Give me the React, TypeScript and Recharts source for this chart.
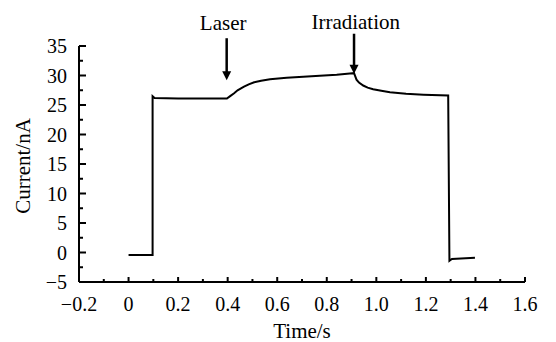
import React from 'react';
import { LineChart, Line, XAxis, YAxis, ReferenceDot, Label } from 'recharts';

// Time (s) and current (nA)
const timeS = [
  0, 0.097, 0.097, 0.105, 0.2, 0.3, 0.397, 0.41, 0.426, 0.44, 0.466, 0.485, 0.507, 0.535,
  0.571, 0.638, 0.705, 0.772, 0.84, 0.893, 0.91, 0.92, 0.93, 0.947, 0.965, 0.987, 1.02,
  1.055, 1.12, 1.19, 1.29, 1.295, 1.305, 1.398,
];
const currentNA = [
  -0.42, -0.42, 26.5, 26.2, 26.1, 26.1, 26.1, 26.5, 27.0, 27.5, 28.1, 28.5, 28.85, 29.1,
  29.36, 29.6, 29.8, 29.97, 30.14, 30.35, 30.4, 29.3, 28.8, 28.3, 27.95, 27.66, 27.4,
  27.15, 26.9, 26.75, 26.6, -1.4, -1.1, -0.9,
];

const xTicks = [-0.2, -0.1, 0, 0.1, 0.2, 0.3, 0.4, 0.5, 0.6, 0.7, 0.8, 0.9, 1.0, 1.1, 1.2, 1.3, 1.4, 1.5, 1.6];
const yTicks = [-5, -2.5, 0, 2.5, 5, 7.5, 10, 12.5, 15, 17.5, 20, 22.5, 25, 27.5, 30, 32.5, 35];

const annotationNames = ['Laser', 'Irradiation'];
const annotationTime = [0.396, 0.91];
const annotationCurrent = [29.2, 30.3];

const data = timeS.map((t, i) => ({ t, c: currentNA[i] }));

// styling
const FONT = "'Liberation Serif', 'Times New Roman', serif";
const txt = { fontFamily: FONT };
const arrowStyle = [
  { shaft: 42, textDx: -3.5, textDy: -50.7 },
  { shaft: 40, textDx: 1.7, textDy: -45.2 },
];

const fmtMinus = (s: string) => s.replace('-', '\u2212');

function XTick(props: any) {
  const { x, y, payload } = props;
  const v = payload.value as number;
  const major = Math.round(v * 10) % 2 === 0;
  const label = v === 0 ? '0' : v.toFixed(1);
  return (
    <g>
      <line x1={x} x2={x} y1={y} y2={y - (major ? 5 : 3)} stroke="#000" strokeWidth={2} />
      {major && (
        <text x={x} y={y + 29} textAnchor="middle" fontSize={20} style={txt} fill="#000">
          {fmtMinus(label)}
        </text>
      )}
    </g>
  );
}

function YTick(props: any) {
  const { x, y, payload } = props;
  const v = payload.value as number;
  const major = v % 5 === 0;
  return (
    <g>
      <line x1={x} x2={x + (major ? 7 : 4)} y1={y} y2={y} stroke="#000" strokeWidth={2} />
      {major && (
        <text x={x - 12} y={y + 7} textAnchor="end" fontSize={20} style={txt} fill="#000">
          {fmtMinus(String(v))}
        </text>
      )}
    </g>
  );
}

function makeArrow(i: number) {
  return (props: any) => {
    const { cx, cy } = props;
    const s = arrowStyle[i];
    return (
      <g>
        <line x1={cx} x2={cx} y1={cy - s.shaft} y2={cy - 7} stroke="#000" strokeWidth={2.5} />
        <polygon points={`${cx - 4.5},${cy - 9} ${cx + 4.5},${cy - 9} ${cx},${cy}`} fill="#000" />
        <text x={cx + s.textDx} y={cy + s.textDy} textAnchor="middle" fontSize={21} style={txt} fill="#000">
          {annotationNames[i]}
        </text>
      </g>
    );
  };
}

export default function App() {
  return (
    <div style={{ position: 'absolute', left: 0, top: 0, width: 556, height: 342, background: '#fff' }}>
      <LineChart width={556} height={342} data={data} margin={{ top: 46, right: 31, left: 0, bottom: 0 }}>
        <XAxis
          dataKey="t"
          type="number"
          domain={[-0.2, 1.6]}
          ticks={xTicks}
          interval={0}
          height={60}
          tickSize={0}
          tickMargin={0}
          tickLine={false}
          tick={<XTick />}
          axisLine={{ stroke: '#000', strokeWidth: 2 }}
          allowDataOverflow
        >
          <Label
            content={(p: any) => {
              const vb = p.viewBox;
              return (
                <text x={vb.x + vb.width / 2} y={vb.y + 56} textAnchor="middle" fontSize={21} style={txt} fill="#000">
                  Time/s
                </text>
              );
            }}
          />
        </XAxis>
        <YAxis
          type="number"
          domain={[-5, 35]}
          ticks={yTicks}
          interval={0}
          width={79}
          tickSize={0}
          tickMargin={0}
          tickLine={false}
          tick={<YTick />}
          axisLine={{ stroke: '#000', strokeWidth: 2 }}
          allowDataOverflow
        >
          <Label
            content={(p: any) => {
              const vb = p.viewBox;
              const cy = vb.y + vb.height / 2 + 2;
              return (
                <text
                  x={23}
                  y={cy}
                  transform={`rotate(-90 23 ${cy})`}
                  textAnchor="middle"
                  dominantBaseline="central"
                  fontSize={21}
                  style={txt}
                  fill="#000"
                >
                  Current/nA
                </text>
              );
            }}
          />
        </YAxis>
        <Line dataKey="c" type="linear" stroke="#000" strokeWidth={2} dot={false} isAnimationActive={false} />
        {annotationNames.map((n, i) => (
          <ReferenceDot
            key={n}
            x={annotationTime[i]}
            y={annotationCurrent[i]}
            r={0}
            ifOverflow="visible"
            shape={makeArrow(i)}
          />
        ))}
      </LineChart>
    </div>
  );
}
